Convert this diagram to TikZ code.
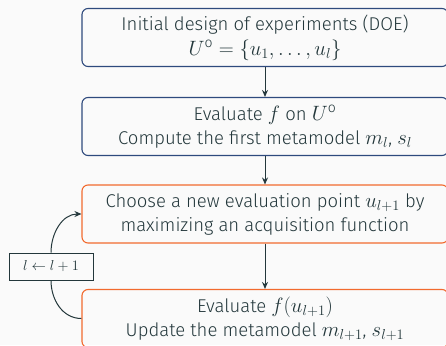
\documentclass[tikz,border=0pt]{standalone}
\usepackage{fontspec}
\setmainfont{Fira Sans Light}
\usetikzlibrary{arrows.meta}
\definecolor{bg}{HTML}{FAFAFA}
\definecolor{txt}{HTML}{23373B}
\definecolor{bluec}{HTML}{2E4A7D}
\definecolor{orangec}{HTML}{F26A2E}
\newcommand\mth[1]{{\fontsize{20}{24}\selectfont$#1$}}
\tikzset{
  box/.style={draw, rounded corners=6pt, line width=1.1pt, minimum width=366pt, minimum height=58pt, align=center, text=txt, font=\fontsize{18.5}{24}\selectfont, inner sep=0pt},
  bluebox/.style={box, draw=bluec},
  orangebox/.style={box, draw=orangec},
  conn/.style={draw=txt, line width=1pt, -{Stealth[length=7pt,width=6pt]}},
  loopline/.style={draw=txt, line width=1pt},
  labelbox/.style={draw=txt, line width=0.9pt, minimum width=84pt, minimum height=27pt, inner sep=0pt, text=txt, font=\fontsize{13.5}{16}\selectfont}
}
\begin{document}
\begin{tikzpicture}[x=1pt,y=1pt]
\useasboundingbox (0,0) rectangle (446,-345);
\clip (0,0) rectangle (446,-345);
\fill[bg] (0,0) rectangle (446,-345);
\node[bluebox] (doe) at (265,-37.5) {Initial design of experiments (DOE)\\[1pt] \mth{U^{\mathrm{o}}=\{u_1,\dots,u_l\}}};
\node[bluebox] (eval) at (265,-126.5) {Evaluate \mth{f} on \mth{U^{\mathrm{o}}}\\ Compute the first metamodel \mth{m_l}, \mth{s_l}};
\node[orangebox] (choose) at (265,-214) {Choose a new evaluation point \mth{u_{l+1}} by\\ maximizing an acquisition function};
\node[orangebox] (upd) at (265,-318.5) {Evaluate \mth{f(u_{l+1})}\\ Update the metamodel \mth{m_{l+1}}, \mth{s_{l+1}}};
\node[labelbox] (inc) at (51,-266.5) {$l\leftarrow l+1$};
\draw[conn] (doe) -- (eval);
\draw[conn] (eval) -- (choose);
\draw[conn] (choose) -- (upd);
\draw[loopline] (upd.west) to[out=180,in=-90] (inc.south);
\draw[conn] (inc.north) to[out=90,in=180] (choose.west);
\end{tikzpicture}
\end{document}
